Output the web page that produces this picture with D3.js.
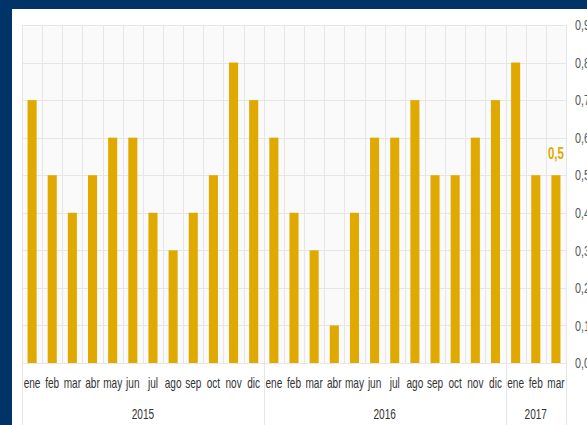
<!DOCTYPE html>
<html>
<head>
<meta charset="utf-8">
<script src="https://cdn.jsdelivr.net/npm/d3@7"></script>
<style>
  body { margin: 0; background: #003368; }
  text { font-family: "Liberation Sans", Arial, sans-serif; }
</style>
</head>
<body>
<div id="chart"></div>
<script>
// data
var years = ["2015", "2016", "2017"];
var monthsPerYear = [12, 12, 3];
var months = ["ene", "feb", "mar", "abr", "may", "jun", "jul", "ago", "sep", "oct", "nov", "dic",
              "ene", "feb", "mar", "abr", "may", "jun", "jul", "ago", "sep", "oct", "nov", "dic",
              "ene", "feb", "mar"];
var values = [0.7, 0.5, 0.4, 0.5, 0.6, 0.6, 0.4, 0.3, 0.4, 0.5, 0.8, 0.7,
              0.6, 0.4, 0.3, 0.1, 0.4, 0.6, 0.6, 0.7, 0.5, 0.5, 0.6, 0.7,
              0.8, 0.5, 0.5];
var yTicks = [0, 0.1, 0.2, 0.3, 0.4, 0.5, 0.6, 0.7, 0.8, 0.9];

var svgWidth = 587;
var svgHeight = 425;

var margin = { top: 25, right: 21, left: 22, bottom: 62 };
var width = svgWidth - margin.left - margin.right;
var height = svgHeight - margin.top - margin.bottom;

var gold = "#dfa900";
var gridColor = "#e6e6e6";
var narrow = 0.72; // squeeze text to look like a narrow face

var svg = d3.select("#chart")
    .append("svg")
    .attr("width", svgWidth)
    .attr("height", svgHeight);

// navy frame + white panel
svg.append("rect")
    .attr("width", svgWidth).attr("height", svgHeight)
    .attr("fill", "#003368");
svg.append("rect")
    .attr("x", 12).attr("y", 9)
    .attr("width", svgWidth - 12).attr("height", svgHeight - 9)
    .attr("fill", "#ffffff");

var chartGroup = svg.append("g")
    .attr("transform", `translate(${margin.left}, ${margin.top})`);

// keys so repeated month names stay distinct
var keys = months.map((m, i) => i);

var xBand = d3.scaleBand()
    .domain(keys)
    .range([0, width])
    .paddingInner(0.55)
    .paddingOuter(0.275);

var step = xBand.step();

var yLinearScale = d3.scaleLinear()
    .domain([0, 0.9])
    .range([height, 0]);

// plot background
chartGroup.append("rect")
    .attr("width", width).attr("height", height)
    .attr("fill", "#fafafa");

// horizontal grid
chartGroup.selectAll(".hgrid")
    .data(yTicks)
    .enter()
    .append("line")
    .attr("x1", 0).attr("x2", width)
    .attr("y1", d => Math.round(yLinearScale(d)) + 0.5)
    .attr("y2", d => Math.round(yLinearScale(d)) + 0.5)
    .attr("stroke", gridColor);

// vertical grid at band edges
var edges = d3.range(keys.length + 1);
chartGroup.selectAll(".vgrid")
    .data(edges)
    .enter()
    .append("line")
    .attr("x1", d => Math.round(d * step) + 0.5)
    .attr("x2", d => Math.round(d * step) + 0.5)
    .attr("y1", 0).attr("y2", height)
    .attr("stroke", gridColor);

// year separators below the axis
var starts = [0];
monthsPerYear.forEach((n, i) => starts.push(starts[i] + n));
chartGroup.selectAll(".sep")
    .data(starts)
    .enter()
    .append("line")
    .attr("x1", d => Math.round(d * step) + 0.5)
    .attr("x2", d => Math.round(d * step) + 0.5)
    .attr("y1", height).attr("y2", svgHeight - margin.top)
    .attr("stroke", gridColor);

// bars
chartGroup.selectAll(".bar")
    .data(values)
    .enter()
    .append("rect")
    .attr("x", (d, i) => xBand(i))
    .attr("width", xBand.bandwidth())
    .attr("y", d => yLinearScale(d))
    .attr("height", d => height - yLinearScale(d))
    .attr("fill", gold);

// month labels
chartGroup.selectAll(".month")
    .data(months)
    .enter()
    .append("text")
    .attr("transform", (d, i) => `translate(${xBand(i) + xBand.bandwidth() / 2}, ${height + 25}) scale(${narrow}, 1)`)
    .attr("text-anchor", "middle")
    .attr("font-size", "14px")
    .attr("fill", "#333333")
    .text(d => d);

// year labels
chartGroup.selectAll(".year")
    .data(years)
    .enter()
    .append("text")
    .attr("transform", (d, i) => `translate(${(starts[i] + monthsPerYear[i] / 2) * step}, ${height + 56}) scale(${narrow}, 1)`)
    .attr("text-anchor", "middle")
    .attr("font-size", "14px")
    .attr("fill", "#333333")
    .text(d => d);

// right axis labels
chartGroup.selectAll(".ylab")
    .data(yTicks)
    .enter()
    .append("text")
    .attr("transform", d => `translate(${width + 9}, ${yLinearScale(d)}) scale(${narrow}, 1)`)
    .attr("dy", "0.35em")
    .attr("font-size", "15px")
    .attr("fill", "#555555")
    .text(d => d3.format(".1f")(d).replace(".", ","));

// value label on the last bar
var last = values.length - 1;
chartGroup.append("text")
    .attr("transform", `translate(${xBand(last) + xBand.bandwidth() / 2}, ${yLinearScale(values[last]) - 16}) scale(${narrow}, 1)`)
    .attr("text-anchor", "middle")
    .attr("font-size", "16px")
    .attr("font-weight", "bold")
    .attr("fill", gold)
    .text(d3.format(".1f")(values[last]).replace(".", ","));
</script>
</body>
</html>
